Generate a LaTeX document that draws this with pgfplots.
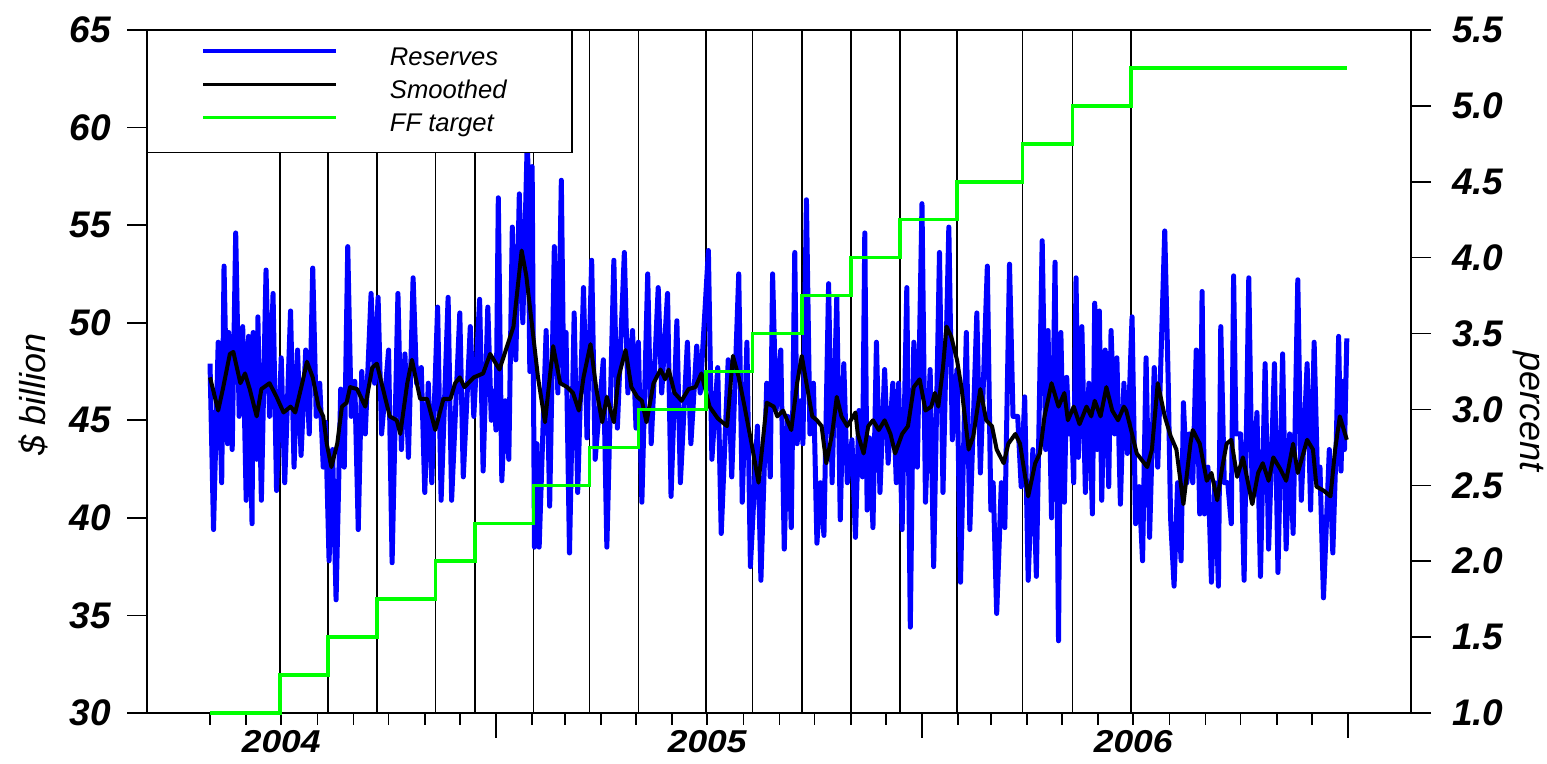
\documentclass[border=0pt]{standalone}
\usepackage{fontspec}
\setmainfont{Liberation Sans}
\newfontfamily\yearfont{Liberation Sans}[FakeStretch=1.12]
\usepackage{pgfplots}
\pgfplotsset{compat=1.18}
\definecolor{resblue}{RGB}{0,0,255}
\definecolor{ffgreen}{RGB}{0,255,0}
\begin{document}
\begin{tikzpicture}
\useasboundingbox (-73.5pt,-25.5pt) rectangle (700pt,356.5pt);
\begin{axis}[
  scale only axis, width=632pt, height=341.5pt,
  xmin=67, xmax=1150, ymin=30, ymax=65,
  axis line style={line width=0.8pt},
  tick align=outside, tick pos=left,
  major tick length=10pt, minor tick length=6pt,
  tick style={black, line width=0.8pt},
  /pgf/number format/assume math mode=true,
  ytick={30,35,...,65},
  yticklabel style={font=\fontsize{18.5}{20}\selectfont\bfseries\itshape, xshift=-4.5pt},
  xtick={182,547,912}, xticklabels={2004,2005,2006},
  major x tick style={draw=none},
  xticklabel style={font=\yearfont\fontsize{15.8}{18}\selectfont\bfseries\itshape, yshift=5pt},
  minor xtick={121,152,182,213,244,274,305,335,397,425,456,486,517,547,578,609,639,670,700,762,790,821,851,882,912,943,974,1004,1035,1065},
  extra x ticks={366,731,1096}, extra x tick labels={},
  extra x tick style={major x tick style={draw=black,/pgfplots/major tick length=12.5pt}},
  ylabel={\$ billion},
  ylabel style={font=\fontsize{18}{20}\selectfont\itshape, at={(axis description cs:-0.0902,0.466)}, anchor=center},
  legend style={at={(0,1)}, anchor=north west, draw=black, line width=0.75pt, fill=white,
    inner xsep=27pt, inner ysep=7.8pt, row sep=4.65pt, column sep=26pt,
    font=\fontsize{12.8}{14}\selectfont\itshape,
    nodes={inner sep=0pt, text height=9.5pt, text depth=2.5pt}},
  legend cell align=left,
  legend image code/.code={\draw[#1, line width=1.6pt] (0pt,3.7pt) -- (66.5pt,3.7pt);},
]
% FOMC rate-change dates (days since 1 Jan 2004)
\addplot[ycomb, black, line width=0.75pt, no markers, forget plot] coordinates {
(181,65) (222,65) (264,65) (314,65) (348,65) (398,65) (446,65) (488,65) (546,65)
(586,65) (628,65) (670,65) (712,65) (761,65) (817,65) (860,65) (910,65)};
% Reserves (daily, $ billion)
\addplot[resblue, line width=2.5pt, line join=round, no markers] table {
121 47.9
124 39.4
128 49.0
131 41.8
133 52.9
136 43.8
137 49.5
140 43.5
143 54.6
146 45.2
149 49.8
152 40.9
154 49.3
157 39.7
158 49.5
161 43.0
162 50.3
165 40.9
169 52.7
172 45.2
175 51.5
178 41.4
182 48.2
185 41.8
190 50.6
193 42.6
196 48.6
199 43.2
203 48.6
206 44.3
209 52.8
212 45.2
215 46.9
218 42.6
220 44.9
223 37.8
226 43.5
229 35.8
233 46.6
236 42.6
239 53.9
242 45.2
245 47.0
248 39.4
251 47.5
254 44.3
259 51.5
262 46.9
265 51.3
268 44.3
274 48.6
277 37.7
282 51.5
285 43.5
288 48.4
291 43.1
295 52.3
298 46.9
302 47.7
305 41.3
308 46.9
311 41.8
316 50.8
319 40.9
325 51.3
328 40.9
335 50.5
338 42.1
344 49.8
347 45.2
352 51.2
355 42.4
359 50.8
362 45.0
364 46.5
366 44.5
368 56.4
371 41.9
374 46.0
377 43.0
380 54.9
383 48.1
386 56.6
389 50.0
393 59.8
395 47.5
397 58.0
399 38.5
401 43.8
403 38.5
409 49.6
412 40.6
416 53.9
419 46.4
422 57.3
424 47.0
426 49.5
429 38.2
433 50.5
436 41.3
441 51.8
444 44.1
448 53.2
451 43.0
458 48.1
461 38.5
467 53.2
470 44.6
476 53.6
479 46.4
483 49.6
486 44.6
488 49.0
491 40.8
496 52.5
499 43.8
505 51.8
508 46.4
513 51.5
516 41.1
521 50.1
524 41.8
530 49.0
533 43.8
538 48.8
541 46.4
548 53.7
551 43.0
556 47.7
559 39.2
565 48.1
568 42.1
574 52.5
577 40.8
581 49.0
584 37.5
590 44.7
593 36.8
598 46.9
601 42.1
603 52.5
606 45.5
610 48.6
613 38.4
616 45.2
619 39.5
622 53.6
624 43.8
627 46.0
629 43.8
632 56.3
635 44.3
638 46.9
641 38.7
644 41.8
647 39.1
651 52.0
654 41.8
658 51.3
661 39.9
664 47.9
667 41.8
671 44.0
674 39.0
677 45.5
680 42.1
682 54.6
684 40.4
686 44.1
689 39.5
692 49.0
695 41.3
699 47.6
702 42.8
706 46.9
709 41.8
711 46.9
714 39.4
718 51.8
721 34.4
724 49.0
727 42.6
731 56.1
734 40.8
738 47.6
741 37.5
746 53.6
749 41.3
754 54.9
757 44.0
761 47.6
764 36.7
769 49.5
772 39.4
778 50.5
781 42.3
787 52.9
790 40.4
792 41.8
795 35.1
799 41.8
802 39.5
806 53.0
809 45.2
813 45.2
816 41.6
819 46.2
822 36.8
826 43.5
829 37.0
834 54.2
837 43.5
839 49.6
842 40.0
845 53.1
848 33.7
850 49.5
853 40.8
855 47.2
857 44.3
859 45.2
861 41.8
863 52.3
865 43.1
868 49.8
871 41.3
874 46.9
877 40.2
879 51.0
881 43.5
883 50.6
885 40.9
888 48.6
891 41.6
893 49.6
896 44.3
898 48.2
901 40.7
904 46.9
907 43.3
911 50.3
914 39.7
917 41.6
920 37.8
923 48.2
926 39.0
930 47.7
933 42.6
939 54.7
942 46.9
944 40.0
947 36.5
950 41.8
953 37.8
955 45.9
958 41.8
960 44.3
963 41.8
966 48.6
969 40.2
971 51.6
973 40.2
976 42.6
979 36.7
982 41.8
985 36.5
987 49.8
990 41.8
993 41.8
996 39.7
998 52.4
1000 44.3
1004 44.3
1007 36.8
1011 52.3
1014 40.8
1018 45.4
1021 37.0
1025 47.9
1028 38.4
1033 47.9
1036 37.2
1040 48.4
1043 38.4
1046 44.3
1049 39.2
1053 52.2
1056 40.9
1061 47.9
1064 40.4
1067 49.0
1070 41.8
1072 42.6
1075 35.9
1080 43.5
1083 38.2
1086 44.0
1088 49.3
1090 42.4
1092 47.0
1093 43.5
1095 49.2
};
\addlegendentry{\makebox[64pt][l]{Reserves}}
% Smoothed
\addplot[black, line width=2pt, line join=round, no markers] table {
121 47.2
128 45.5
132 46.6
138 48.4
141 48.5
147 46.9
151 47.4
155 46.6
161 45.2
165 46.6
172 46.9
178 46.2
184 45.4
190 45.7
194 45.4
200 46.9
204 48.0
209 47.2
214 45.7
218 45.2
221 43.8
225 42.6
230 43.8
234 45.7
238 45.9
241 46.7
247 46.6
254 45.7
260 47.7
264 47.9
268 46.9
275 45.2
281 45.0
284 44.3
290 46.9
294 48.1
301 46.1
307 46.1
314 44.5
321 46.1
327 46.1
331 46.9
335 47.2
339 46.7
347 47.2
355 47.4
361 48.4
369 47.6
381 49.8
388 53.7
392 52.4
397 49.8
402 47.2
408 44.9
415 48.8
421 46.9
427 46.7
432 46.4
437 45.5
441 47.2
447 48.9
452 46.6
457 44.9
461 46.2
467 44.9
471 47.2
477 48.6
482 46.7
487 46.2
491 46.0
495 44.9
501 46.9
507 47.6
511 47.1
514 47.6
519 46.4
525 46.0
531 46.6
537 46.7
542 47.4
549 45.7
556 45.1
564 44.7
569 48.3
574 47.2
579 45.7
585 43.8
591 41.8
598 45.9
604 45.7
607 45.2
612 45.5
619 44.5
624 46.9
628 48.3
632 46.9
637 45.2
641 45.0
645 44.7
649 42.8
654 44.3
658 46.2
662 45.2
667 44.7
674 45.4
676 44.3
681 43.3
685 44.7
689 45.0
694 44.5
699 45.0
704 44.3
708 43.3
714 44.3
719 44.7
724 46.7
729 47.1
734 45.5
739 45.7
742 46.4
745 45.7
749 47.7
752 49.8
756 49.3
761 48.1
765 46.6
771 43.5
775 44.2
781 46.6
786 45.0
791 44.7
795 43.5
801 42.8
805 43.8
811 44.3
815 43.8
822 41.1
828 42.8
832 43.3
836 45.2
842 46.9
848 45.7
853 46.4
856 45.0
861 45.7
866 44.8
872 45.7
876 45.2
879 46.0
884 45.2
889 46.7
894 45.5
899 45.0
904 45.7
906 45.5
911 44.3
915 43.3
924 42.6
928 43.5
933 46.9
939 45.2
944 44.2
949 43.5
955 40.7
961 43.8
963 44.5
969 43.8
975 41.9
979 42.3
984 40.9
988 42.5
992 43.8
996 44.0
1001 42.1
1006 43.1
1014 40.7
1019 42.3
1023 42.8
1028 41.9
1032 43.1
1038 42.5
1043 41.9
1049 43.8
1053 42.3
1061 44.0
1066 43.5
1069 41.6
1075 41.4
1081 41.1
1085 43.5
1089 45.2
1095 44.0
};
\addlegendentry{\makebox[64pt][l]{Smoothed}}
\addlegendimage{ffgreen}
\addlegendentry{\makebox[64pt][l]{FF target}}
\end{axis}
\begin{axis}[
  scale only axis, width=632pt, height=341.5pt,
  xmin=67, xmax=1150, ymin=1, ymax=5.5,
  hide x axis, ytick pos=right, yticklabel pos=right,
  axis line style={line width=0.8pt},
  tick align=outside, major tick length=10pt,
  tick style={black, line width=0.8pt},
  ytick={1,1.5,...,5.5},
  /pgf/number format/assume math mode=true,
  yticklabel style={font=\fontsize{18.5}{20}\selectfont\bfseries\itshape, xshift=7pt,
    /pgf/number format/.cd, fixed, fixed zerofill, precision=1},
  ylabel={percent},
  ylabel style={font=\fontsize{18}{20}\selectfont\itshape, at={(axis description cs:1.0926,0.442)}, anchor=center, rotate=180},
  clip=false,
]
\addplot[ffgreen, line width=1.75pt, const plot, no markers] coordinates {
(121,1.00) (181,1.25) (222,1.50) (264,1.75) (314,2.00) (348,2.25) (398,2.50)
(446,2.75) (488,3.00) (546,3.25) (586,3.50) (628,3.75) (670,4.00) (712,4.25)
(761,4.50) (817,4.75) (860,5.00) (910,5.25) (1095,5.25)};
\end{axis}
\end{tikzpicture}
\end{document}
